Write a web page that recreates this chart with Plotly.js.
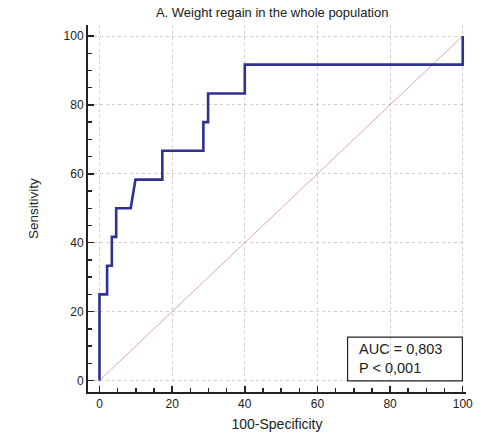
<!DOCTYPE html>
<html>
<head>
<meta charset="utf-8">
<script src="https://cdn.plot.ly/plotly-3.0.1.min.js"></script>
<style>html,body{margin:0;padding:0;background:#fff;}#chart{width:486px;height:438px;}</style>
</head>
<body>
<div id="chart"></div>
<script>
// ROC curve: 100-Specificity (x) vs Sensitivity (y)
const rocX = [0, 0, 2.1, 2.1, 3.4, 3.4, 4.6, 4.6, 8.6, 9.9, 17.3, 17.3, 28.6, 28.6, 29.9, 29.9, 40, 40, 100, 100];
const rocY = [0, 25, 25, 33.3, 33.3, 41.7, 41.7, 50, 50, 58.3, 58.3, 66.7, 66.7, 75, 75, 83.3, 83.3, 91.7, 91.7, 100];
// Reference (chance) line
const refX = [0, 100];
const refY = [0, 100];
const tickVals = [0, 20, 40, 60, 80, 100];
const tickText = ['0', '20', '40', '60', '80', '100'];
const aucText = 'AUC = 0,803<br>P &lt; 0,001';

const font = 'Arial, "Liberation Sans", sans-serif';

const traces = [
  {x: refX, y: refY, mode: 'lines', line: {color: '#e0a8a8', width: 1}, hoverinfo: 'skip', showlegend: false},
  {x: rocX, y: rocY, mode: 'lines', line: {color: '#2e3192', width: 2.6, shape: 'linear'}, showlegend: false}
];

const axisCommon = {
  tickvals: tickVals, ticktext: tickText,
  showgrid: true, gridcolor: '#cfcfcf', griddash: 'dot', gridwidth: 1,
  zeroline: false,
  showline: true, linecolor: '#222', linewidth: 2,
  ticks: 'inside', ticklen: 6, tickwidth: 1.5, tickcolor: '#222',
  minor: {dtick: 5, ticks: 'inside', ticklen: 4, tickwidth: 1.5, tickcolor: '#222', showgrid: false},
  tickfont: {family: font, size: 12, color: '#222'}
};

const layout = {
  width: 486, height: 438,
  margin: {l: 88, r: 20, t: 25, b: 46},
  paper_bgcolor: '#fff', plot_bgcolor: '#fff',
  font: {family: font, color: '#222'},
  title: {text: 'A. Weight regain in the whole population', font: {family: font, size: 13, color: '#1a1a1a'}, x: 0.56, xanchor: 'center', y: 0.972, yanchor: 'middle'},
  xaxis: Object.assign({}, axisCommon, {
    range: [-3.16, 100.9],
    title: {text: '100-Specificity', font: {family: font, size: 14, color: '#222'}, standoff: 9}
  }),
  yaxis: Object.assign({}, axisCommon, {
    range: [-3.34, 103.2],
    title: {text: 'Sensitivity', font: {family: font, size: 13.5, color: '#222'}, standoff: 22}
  }),
  shapes: [
    {type: 'rect', xref: 'x', yref: 'y', x0: 68.3, x1: 99.9, y0: -0.1, y1: 12.6, line: {color: '#222', width: 1.2}, fillcolor: 'rgba(255,255,255,0)'}
  ],
  annotations: [
    {text: aucText, xref: 'x', yref: 'y', x: 71, y: 6.25, xanchor: 'left', yanchor: 'middle', align: 'left', showarrow: false, font: {family: font, size: 14.5, color: '#222'}}
  ]
};

Plotly.newPlot('chart', traces, layout, {displayModeBar: false, staticPlot: true});
</script>
</body>
</html>
